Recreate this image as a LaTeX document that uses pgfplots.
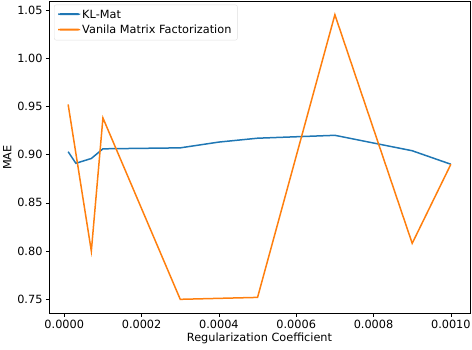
\documentclass[border=0pt]{standalone}
\usepackage{pgfplots}
\pgfplotsset{compat=1.18}
\usepackage{fontspec}
\setmainfont{DejaVu Sans}
\definecolor{tabblue}{HTML}{1F77B4}
\definecolor{taborange}{HTML}{FF7F0E}

\begin{document}
\begin{tikzpicture}
\begin{axis}[
    scale only axis,
    width=421pt, height=312pt,
    xmin=-0.0000395, xmax=0.0010495,
    ymin=0.7353, ymax=1.0587,
    xtick={0,0.0002,...,0.0010},
    ytick={0.75,0.80,...,1.05},
    scaled x ticks=false,
    xticklabel style={/pgf/number format/.cd, fixed, fixed zerofill, precision=4},
    yticklabel style={/pgf/number format/.cd, fixed, fixed zerofill, precision=2},
    /pgf/number format/assume math mode=true,
    tick align=outside,
    tick pos=left,
    major tick length=3pt,
    tick style={black, line width=0.6pt},
    axis line style={line width=0.6pt},
    ticklabel style={font=\fontsize{11.3}{13}\selectfont},
    xlabel={Regularization Coefficient},
    ylabel={MAE},
    label style={font=\fontsize{11.3}{13}\selectfont},
    xlabel style={yshift=3pt},
    ylabel style={yshift=-1pt},
    legend cell align=left,
    legend style={at={(0.012,0.99)}, anchor=north west,
        draw=black!12, rounded corners=2pt, fill=white,
        font=\fontsize{11.3}{13}\selectfont, row sep=1.5pt,
        inner xsep=4pt, inner ysep=3pt},
    legend image code/.code={\fill[#1] (0pt,-0.5pt) rectangle (22pt,1.5pt);},
]
\addlegendimage{fill=tabblue, draw=none}
\addlegendentry{KL-Mat}
\addlegendimage{fill=taborange, draw=none}
\addlegendentry{Vanila Matrix Factorization}
\addplot[draw=tabblue, line width=1.5pt, forget plot] coordinates {
    (0.00001,0.903) (0.00003,0.891) (0.00007,0.896) (0.0001,0.906)
    (0.0003,0.907) (0.0004,0.913) (0.0005,0.917) (0.0007,0.920)
    (0.0009,0.904) (0.0010,0.890)
};
\addplot[draw=taborange, line width=1.5pt, forget plot] coordinates {
    (0.00001,0.952) (0.00007,0.800) (0.0001,0.938) (0.0003,0.750)
    (0.0005,0.752) (0.0007,1.045) (0.0009,0.808) (0.0010,0.890)
};
\coordinate (sw) at (rel axis cs:0,0);
\coordinate (ne) at (rel axis cs:1,1);
\end{axis}
\pgfresetboundingbox
\useasboundingbox ([shift={(-49pt,-36pt)}]sw) rectangle ([shift={(2pt,1.5pt)}]ne);
\end{tikzpicture}
\end{document}
